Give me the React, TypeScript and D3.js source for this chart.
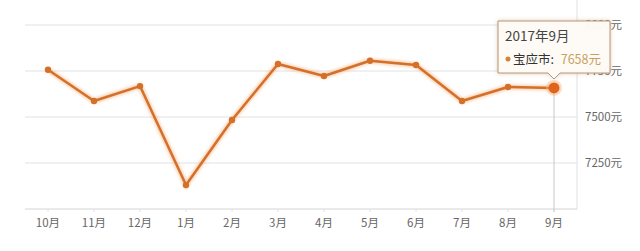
import React from "react";
import * as d3 from "d3";

const months = ["10月", "11月", "12月", "1月", "2月", "3月", "4月", "5月", "6月", "7月", "8月", "9月"];
const prices = [7757, 7587, 7668, 7130, 7484, 7788, 7723, 7806, 7783, 7587, 7663, 7658];
const yTicks = [7000, 7250, 7500, 7750, 8000];
const seriesName = "宝应市";
const tooltipTitle = "2017年9月";
const highlightIndex = 11;

const W = 640;
const H = 251;
const left = 25;
const right = 577;
const top = 25;
const bottom = 209;
const FONT = "'Noto Sans CJK SC', 'Noto Sans', sans-serif";

export default function App() {
  const x = d3.scaleBand<string>().domain(months).range([left, right]);
  const xc = (m: string) => (x(m) as number) + x.bandwidth() / 2;
  const y = d3.scaleLinear().domain([7000, 8000]).range([bottom, top]);
  const line = d3
    .line<number>()
    .x((_, i) => xc(months[i]))
    .y((d) => y(d));
  const path = line(prices) as string;
  const hx = xc(months[highlightIndex]);
  const hy = y(prices[highlightIndex]);

  const tipW = 112;
  const tipH = 52;
  const tipX = hx - 56;
  const tipY = 21;
  const arrowTipY = tipY + tipH + 6;
  const tipPath = `M${tipX},${tipY} H${tipX + tipW} V${tipY + tipH} H${hx + 6} L${hx},${arrowTipY} L${hx - 6},${tipY + tipH} H${tipX} Z`;

  return (
    <svg
      width={W}
      height={H}
      style={{ position: "absolute", left: 0, top: 0, background: "#fff" }}
      fontFamily={FONT}
    >
      <defs>
        <filter id="glow" x="-10%" y="-20%" width="120%" height="140%">
          <feGaussianBlur stdDeviation="1.5" />
        </filter>
        <filter id="shadow" x="-20%" y="-20%" width="140%" height="140%">
          <feDropShadow dx="0" dy="0" stdDeviation="2" floodColor="#c89a6a" floodOpacity="0.5" />
        </filter>
      </defs>
      {yTicks.map((t) => (
        <line key={t} x1={left} x2={right} y1={y(t)} y2={y(t)} stroke={t === 7000 ? "#d4d4d4" : "#e2e2e2"} strokeWidth={1} />
      ))}
      <line x1={right} x2={right} y1={0} y2={bottom} stroke="#e0e0e0" />
      {months.map((m) => (
        <line key={m} x1={xc(m)} x2={xc(m)} y1={bottom} y2={bottom + 3} stroke="#e2e2e2" />
      ))}
      {months.map((m) => (
        <text key={m} x={xc(m)} y={227} textAnchor="middle" fontSize={11.5} fill="#666">
          {m}
        </text>
      ))}
      {yTicks
        .filter((t) => t > 7000)
        .map((t) => (
          <text key={t} x={585} y={y(t) + 4} fontSize={11.5} fill="#666">
            {t}元
          </text>
        ))}
      <line x1={hx} x2={hx} y1={hy} y2={bottom + 3} stroke="#c8c8c8" />
      <path d={path} fill="none" stroke="#f0a060" strokeWidth={5} opacity={0.5} filter="url(#glow)" />
      <path d={path} fill="none" stroke="#d4702a" strokeWidth={2.5} strokeLinejoin="round" />
      {prices.map((p, i) =>
        i === highlightIndex ? null : (
          <circle key={i} cx={xc(months[i])} cy={y(p)} r={3.2} fill="#d4702a" />
        )
      )}
      <circle cx={hx} cy={hy} r={8} fill="#f7b27a" opacity={0.45} />
      <circle cx={hx} cy={hy} r={5.5} fill="#e0651c" />
      <path d={tipPath} fill="rgba(255,253,248,0.95)" stroke="#b8967a" strokeWidth={1} filter="url(#shadow)" />
      <text x={tipX + 7} y={tipY + 20} fontSize={13.5} fill="#444">
        {tooltipTitle}
      </text>
      <circle cx={tipX + 10} cy={tipY + 38} r={2.5} fill="#d4843a" />
      <text x={tipX + 15} y={tipY + 43} fontSize={12.5} fill="#333">
        {seriesName}:
      </text>
      <text x={tipX + 103} y={tipY + 43} fontSize={12.5} fill="#c9a05e" textAnchor="end">
        {prices[highlightIndex]}元
      </text>
    </svg>
  );
}
